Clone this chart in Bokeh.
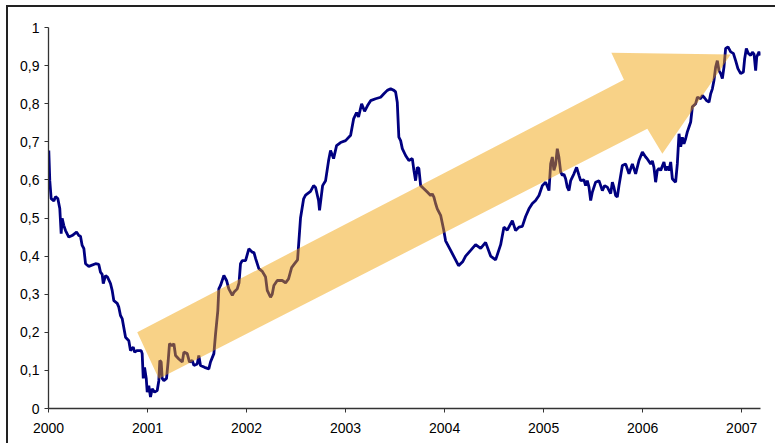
from bokeh.plotting import figure
from bokeh.models import Range1d, FixedTicker
from bokeh.embed import file_html
from bokeh.resources import INLINE

# ---- data -------------------------------------------------------------
years = [
    2000.003, 2000.013, 2000.027, 2000.054, 2000.071, 2000.094, 2000.114, 2000.128, 2000.138, 2000.155,
    2000.172, 2000.205, 2000.239, 2000.283, 2000.306, 2000.323, 2000.340, 2000.357, 2000.374, 2000.407,
    2000.475, 2000.508, 2000.525, 2000.542, 2000.553, 2000.576, 2000.596, 2000.626, 2000.643, 2000.660,
    2000.694, 2000.710, 2000.727, 2000.744, 2000.778, 2000.811, 2000.828, 2000.856, 2000.869, 2000.896,
    2000.936, 2000.946, 2000.957, 2000.970, 2000.987, 2000.997, 2001.013, 2001.030, 2001.047, 2001.071,
    2001.098, 2001.114, 2001.124, 2001.138, 2001.148, 2001.165, 2001.192, 2001.209, 2001.222, 2001.249,
    2001.266, 2001.283, 2001.316, 2001.351, 2001.367, 2001.401, 2001.424, 2001.452, 2001.468, 2001.502,
    2001.518, 2001.535, 2001.576, 2001.619, 2001.636, 2001.670, 2001.687, 2001.710, 2001.720, 2001.737,
    2001.771, 2001.798, 2001.821, 2001.856, 2001.872, 2001.906, 2001.924, 2001.939, 2001.956, 2001.990,
    2002.023, 2002.058, 2002.074, 2002.091, 2002.124, 2002.159, 2002.192, 2002.209, 2002.242, 2002.259,
    2002.276, 2002.310, 2002.360, 2002.394, 2002.424, 2002.455, 2002.485, 2002.515, 2002.545, 2002.576,
    2002.596, 2002.646, 2002.677, 2002.697, 2002.727, 2002.737, 2002.768, 2002.798, 2002.828, 2002.848,
    2002.879, 2002.909, 2002.949, 2003.000, 2003.051, 2003.081, 2003.111, 2003.131, 2003.162, 2003.192,
    2003.222, 2003.253, 2003.303, 2003.354, 2003.387, 2003.421, 2003.455, 2003.488, 2003.505, 2003.522,
    2003.538, 2003.556, 2003.573, 2003.606, 2003.639, 2003.674, 2003.690, 2003.707, 2003.724, 2003.740,
    2003.758, 2003.791, 2003.825, 2003.859, 2003.876, 2003.892, 2003.909, 2003.926, 2003.960, 2003.990,
    2004.010, 2004.061, 2004.111, 2004.141, 2004.182, 2004.212, 2004.263, 2004.313, 2004.364, 2004.414,
    2004.465, 2004.515, 2004.566, 2004.599, 2004.633, 2004.684, 2004.717, 2004.751, 2004.785, 2004.818,
    2004.852, 2004.886, 2004.919, 2004.953, 2004.987, 2005.020, 2005.054, 2005.071, 2005.088, 2005.104,
    2005.121, 2005.138, 2005.154, 2005.172, 2005.189, 2005.205, 2005.222, 2005.239, 2005.256, 2005.273,
    2005.306, 2005.333, 2005.357, 2005.374, 2005.407, 2005.424, 2005.441, 2005.458, 2005.475, 2005.492,
    2005.525, 2005.559, 2005.593, 2005.616, 2005.643, 2005.677, 2005.694, 2005.710, 2005.727, 2005.744,
    2005.761, 2005.795, 2005.828, 2005.862, 2005.896, 2005.929, 2005.963, 2005.997, 2006.030, 2006.047,
    2006.081, 2006.098, 2006.114, 2006.131, 2006.148, 2006.165, 2006.182, 2006.215, 2006.232, 2006.249,
    2006.266, 2006.283, 2006.300, 2006.316, 2006.333, 2006.350, 2006.367, 2006.384, 2006.401, 2006.417,
    2006.434, 2006.451, 2006.468, 2006.485, 2006.502, 2006.535, 2006.553, 2006.586, 2006.603, 2006.626,
    2006.646, 2006.670, 2006.687, 2006.704, 2006.720, 2006.737, 2006.754, 2006.771, 2006.788, 2006.805,
    2006.821, 2006.838, 2006.862, 2006.889, 2006.916, 2006.939, 2006.962, 2006.990, 2007.017, 2007.030,
    2007.047, 2007.067, 2007.091, 2007.108, 2007.125, 2007.141, 2007.152, 2007.175, 2007.192,
]
values = [
    0.677, 0.598, 0.551, 0.545, 0.556, 0.551, 0.525, 0.459, 0.499, 0.480,
    0.467, 0.450, 0.454, 0.463, 0.454, 0.452, 0.428, 0.420, 0.380, 0.373,
    0.380, 0.378, 0.358, 0.352, 0.328, 0.349, 0.345, 0.328, 0.310, 0.283,
    0.276, 0.266, 0.244, 0.236, 0.187, 0.178, 0.152, 0.161, 0.148, 0.152,
    0.152, 0.144, 0.079, 0.108, 0.079, 0.043, 0.060, 0.030, 0.052, 0.043,
    0.047, 0.073, 0.126, 0.122, 0.079, 0.073, 0.079, 0.126, 0.170, 0.165,
    0.170, 0.139, 0.130, 0.122, 0.148, 0.144, 0.122, 0.126, 0.113, 0.117,
    0.139, 0.113, 0.108, 0.104, 0.122, 0.144, 0.196, 0.257, 0.314, 0.323,
    0.349, 0.336, 0.314, 0.297, 0.305, 0.314, 0.330, 0.380, 0.388, 0.388,
    0.419, 0.410, 0.410, 0.394, 0.367, 0.360, 0.345, 0.310, 0.292, 0.300,
    0.323, 0.336, 0.336, 0.330, 0.340, 0.370, 0.380, 0.390, 0.500, 0.550,
    0.560, 0.570, 0.585, 0.580, 0.546, 0.520, 0.585, 0.598, 0.650, 0.677,
    0.656, 0.690, 0.698, 0.703, 0.717, 0.760, 0.777, 0.765, 0.800, 0.780,
    0.795, 0.808, 0.813, 0.817, 0.826, 0.835, 0.839, 0.835, 0.831, 0.804,
    0.712, 0.703, 0.682, 0.664, 0.651, 0.656, 0.625, 0.598, 0.633, 0.630,
    0.585, 0.577, 0.568, 0.559, 0.563, 0.555, 0.538, 0.524, 0.507, 0.470,
    0.440, 0.415, 0.390, 0.375, 0.385, 0.400, 0.415, 0.430, 0.420, 0.436,
    0.400, 0.390, 0.430, 0.476, 0.468, 0.493, 0.467, 0.476, 0.478, 0.504,
    0.524, 0.538, 0.546, 0.559, 0.585, 0.594, 0.572, 0.642, 0.660, 0.625,
    0.640, 0.682, 0.660, 0.621, 0.612, 0.615, 0.603, 0.581, 0.572, 0.598,
    0.616, 0.633, 0.612, 0.598, 0.600, 0.585, 0.598, 0.581, 0.546, 0.568,
    0.594, 0.598, 0.572, 0.585, 0.581, 0.564, 0.594, 0.580, 0.559, 0.555,
    0.585, 0.638, 0.642, 0.616, 0.642, 0.616, 0.651, 0.673, 0.660, 0.655,
    0.642, 0.650, 0.633, 0.594, 0.625, 0.630, 0.625, 0.647, 0.625, 0.635,
    0.625, 0.647, 0.603, 0.598, 0.594, 0.642, 0.721, 0.687, 0.712, 0.695,
    0.708, 0.726, 0.739, 0.752, 0.792, 0.800, 0.817, 0.813, 0.822, 0.815,
    0.808, 0.804, 0.826, 0.839, 0.861, 0.896, 0.913, 0.887, 0.879, 0.866,
    0.896, 0.945, 0.949, 0.936, 0.932, 0.913, 0.892, 0.879, 0.883, 0.918,
    0.945, 0.932, 0.927, 0.935, 0.930, 0.887, 0.923, 0.936, 0.927,
]

# trend arrow outline (data units)
arrow_x = [2000.896, 2005.811, 2005.684, 2006.889, 2006.199, 2006.047, 2001.114]
arrow_y = [0.2003, 0.8627, 0.9336, 0.9291, 0.6685, 0.7341, 0.0780]

x_ticks = [2000, 2001, 2002, 2003, 2004, 2005, 2006, 2007]
y_ticks = [0, 0.1, 0.2, 0.3, 0.4, 0.5, 0.6, 0.7, 0.8, 0.9, 1]
y_labels = ["0", "0,1", "0,2", "0,3", "0,4", "0,5", "0,6", "0,7", "0,8", "0,9", "1"]

# ---- figure -----------------------------------------------------------
p = figure(width=769, height=438, output_backend="svg", toolbar_location=None,
           x_range=Range1d(2000, 2007.19), y_range=Range1d(0, 1),
           min_border_left=40, min_border_right=17, min_border_top=20, min_border_bottom=37)
p.margin = (5, 0, 0, 6)
p.styles = {"border-left": "2px solid #222", "border-top": "2px solid #222"}

p.outline_line_color = None
p.xgrid.visible = False
p.ygrid.visible = False
p.background_fill_color = "white"
p.border_fill_color = "white"

p.line(years, values, line_color="#000080", line_width=2.8)
p.patch(arrow_x, arrow_y, fill_color="#F0A000", fill_alpha=0.47, line_color=None)

for ax in (p.xaxis[0], p.yaxis[0]):
    ax.axis_line_color = "#333333"
    ax.axis_line_width = 1.3
    ax.major_tick_line_color = "#333333"
    ax.major_tick_in = 0
    ax.major_tick_out = 4
    ax.minor_tick_line_color = None
    ax.major_label_text_font = "Liberation Sans"
    ax.major_label_text_font_size = "14px"
    ax.major_label_text_color = "#000000"

p.xaxis[0].major_label_standoff = 10
p.yaxis[0].major_label_standoff = 5

p.xaxis[0].ticker = FixedTicker(ticks=x_ticks)
p.xaxis[0].major_label_overrides = {t: str(t) for t in x_ticks}
p.yaxis[0].ticker = FixedTicker(ticks=y_ticks)
p.yaxis[0].major_label_overrides = {t: l for t, l in zip(y_ticks, y_labels)}

open("out.html", "w").write(file_html(p, INLINE))
